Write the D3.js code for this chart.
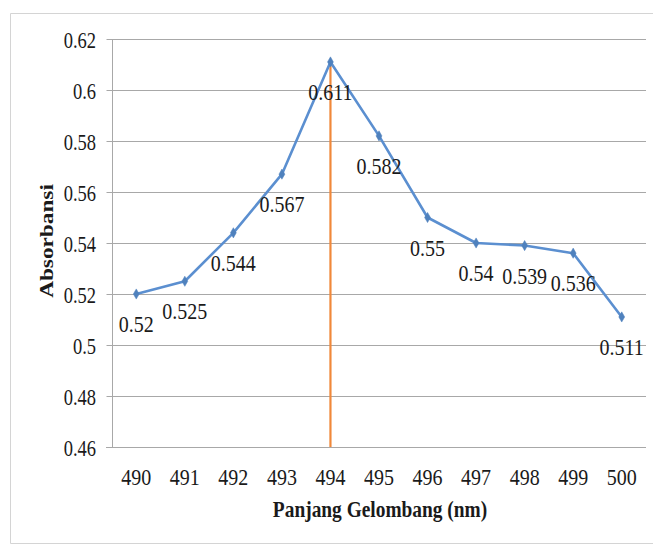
<!DOCTYPE html>
<html>
<head>
<meta charset="utf-8">
<script src="https://cdn.jsdelivr.net/npm/d3@7"></script>
<style>
  html, body { margin: 0; padding: 0; background: #fff; }
  svg { display: block; }
</style>
</head>
<body>
<svg id="chart" width="653" height="546"></svg>
<script>
const wavelengths = [490, 491, 492, 493, 494, 495, 496, 497, 498, 499, 500];
const absorbance = [0.52, 0.525, 0.544, 0.567, 0.611, 0.582, 0.55, 0.54, 0.539, 0.536, 0.511];
const dataLabels = ["0.52", "0.525", "0.544", "0.567", "0.611", "0.582", "0.55", "0.54", "0.539", "0.536", "0.511"];
const yTicks = [0.46, 0.48, 0.5, 0.52, 0.54, 0.56, 0.58, 0.6, 0.62];
const yTickLabels = ["0.46", "0.48", "0.5", "0.52", "0.54", "0.56", "0.58", "0.6", "0.62"];
const peakWavelength = [494];
const xTitle = "Panjang Gelombang (nm)";
const yTitle = "Absorbansi";

const FONT = "'Liberation Serif', 'Times New Roman', Times, serif";
const svg = d3.select("#chart");
const mLeft = 112, mRight = 646, mTop = 39, mBottom = 447;
const SY = 1.2; // vertical text stretch of the original

// outer frame
svg.append("path")
  .attr("d", `M653,13.5 H10.5 V543.5 H653`)
  .attr("fill", "none").attr("stroke", "#d4d4d4").attr("stroke-width", 1);

const x = d3.scaleBand().domain(wavelengths).range([mLeft, mRight]);
const y = d3.scaleLinear().domain([0.46, 0.62]).range([mBottom, mTop]);
const cx = d => x(d) + x.bandwidth() / 2;

// gridlines
svg.append("g").selectAll("line").data(yTicks.slice(1)).join("line")
  .attr("x1", mLeft).attr("x2", mRight)
  .attr("y1", d => Math.round(y(d)) + 0.5).attr("y2", d => Math.round(y(d)) + 0.5)
  .attr("stroke", "#a8a8a8").attr("stroke-width", 1);

// y axis
const yAxis = svg.append("g").attr("transform", `translate(${mLeft + 0.5},0)`)
  .call(d3.axisLeft(y).tickValues(yTicks).tickSize(6).tickFormat((d, i) => yTickLabels[i]));
yAxis.select(".domain").attr("stroke", "#a8a8a8").attr("d", `M0,${mTop}V${mBottom}`);
yAxis.selectAll(".tick line").attr("stroke", "#a8a8a8");
yAxis.selectAll(".tick text").remove();

const txt = g => g.attr("font-family", FONT).attr("fill", "#1a1a1a");

svg.append("g").call(txt).selectAll("text").data(yTicks).join("text")
  .attr("text-anchor", "end")
  .attr("font-size", 18.5)
  .attr("transform", d => `translate(96,${y(d) + 9}) scale(1,${SY})`)
  .text((d, i) => yTickLabels[i]);

// x axis
const xAxis = svg.append("g").attr("transform", `translate(0,${mBottom + 0.5})`)
  .call(d3.axisBottom(x).tickSize(0).tickFormat(d => d));
xAxis.select(".domain").attr("stroke", "#a8a8a8").attr("d", `M${mLeft - 6},0H${mRight}`);
xAxis.selectAll(".tick text").remove();
svg.append("g").call(txt).selectAll("text").data(wavelengths).join("text")
  .attr("text-anchor", "middle")
  .attr("font-size", 20)
  .attr("transform", d => `translate(${cx(d)},485) scale(1,${SY})`)
  .text(d => d);

// peak vertical line
svg.append("g").selectAll("line").data(peakWavelength).join("line")
  .attr("x1", d => cx(d)).attr("x2", d => cx(d))
  .attr("y1", d => y(absorbance[wavelengths.indexOf(d)]))
  .attr("y2", mBottom)
  .attr("stroke", "#f0883a").attr("stroke-width", 2.2);

// series line
const pts = wavelengths.map((w, i) => ({ w, v: absorbance[i], l: dataLabels[i] }));
svg.append("path").datum(pts)
  .attr("fill", "none").attr("stroke", "#5b8fd0").attr("stroke-width", 2.6)
  .attr("stroke-linejoin", "round")
  .attr("d", d3.line().x(d => cx(d.w)).y(d => y(d.v)));

// diamond markers
svg.append("g").selectAll("path").data(pts).join("path")
  .attr("d", d3.symbol(d3.symbolDiamond, 30))
  .attr("transform", d => `translate(${cx(d.w)},${y(d.v)})`)
  .attr("fill", "#4f81bd").attr("stroke", "#4f81bd").attr("stroke-width", 0.5);

// data labels
svg.append("g").call(txt).selectAll("text").data(pts).join("text")
  .attr("text-anchor", "middle")
  .attr("font-size", 20)
  .attr("transform", d => `translate(${cx(d.w)},${y(d.v) + 38}) scale(1,${SY})`)
  .text(d => d.l);

// axis titles
svg.append("text").call(txt)
  .attr("text-anchor", "middle").attr("font-weight", "bold").attr("font-size", 19.4)
  .attr("transform", `translate(380,517) scale(1,${SY})`)
  .text(xTitle);

svg.append("text").call(txt)
  .attr("text-anchor", "middle").attr("font-weight", "bold").attr("font-size", 19.4)
  .attr("transform", `translate(53,241) rotate(-90) scale(${SY},1)`)
  .text(yTitle);
</script>
</body>
</html>
